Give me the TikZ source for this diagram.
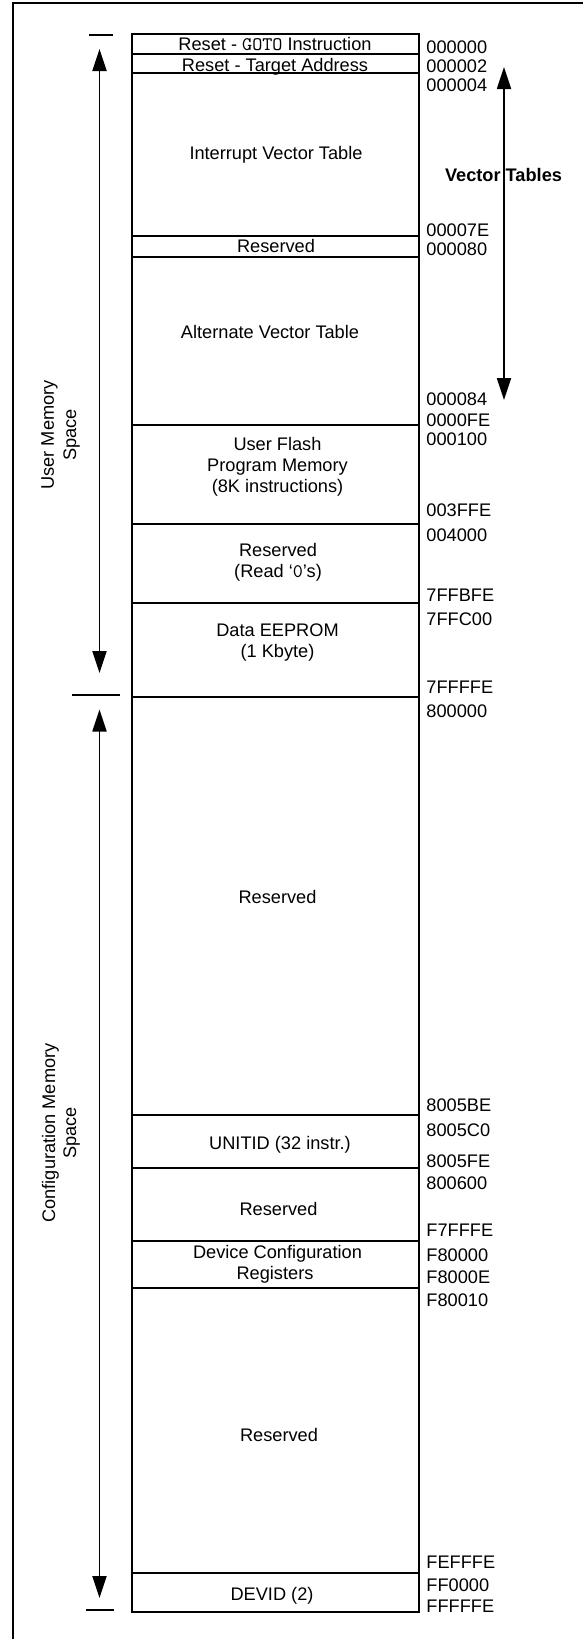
\documentclass[tikz,border=0pt]{standalone}
\usepackage{fontspec}
\setmainfont{Liberation Sans}
\usetikzlibrary{arrows.meta}
\tikzset{
  frameline/.style={line width=1pt},
  boxline/.style={line width=1.1pt},
  tickline/.style={line width=0.9pt},
  dblarrow/.style={line width=0.9pt,{Triangle[length=11pt,width=7pt]}-{Triangle[length=11pt,width=7pt]}},
  lbl/.style={anchor=base,inner sep=0pt,font=\fontsize{9.1pt}{10.5pt}\selectfont},
  addr/.style={anchor=base west,inner sep=0pt,font=\fontsize{9.1pt}{10.5pt}\selectfont},
  side/.style={anchor=base,rotate=90,inner sep=0pt,font=\fontsize{9.1pt}{10.5pt}\selectfont},
  boldlbl/.style={anchor=base,inner sep=0pt,font=\fontsize{9.1pt}{10.5pt}\selectfont\bfseries},
}
\begin{document}
\begin{tikzpicture}[x=0.5pt,y=-0.5pt]
\useasboundingbox (0,0) rectangle (583,1639);
% outer frame (only top and left visible)
\begin{scope}
\clip (0,0) rectangle (583,1639);
\coordinate (fbl) at (13,1660);
\coordinate (ftl) at (13,3);
\coordinate (ftr) at (600,3);
\draw[frameline] (fbl) -- (ftl) -- (ftr);
\end{scope}

% memory map column
\coordinate (boxtl) at (132,34);
\coordinate (boxbr) at (419,1612);
\draw[boxline] (boxtl) rectangle (boxbr);
\foreach \yy in {54,73,236,257,425,524,603,697,1115,1168,1241,1288,1573}
  \draw[boxline] (132,\yy) -- (419,\yy);

% region labels
\node[lbl] (goto)  at (275,50)    {Reset - {\ttfamily\fontsize{9.6pt}{10.5pt}\selectfont GOTO} Instruction};
\node[lbl] (tgt)   at (275,71)    {Reset - Target Address};
\node[lbl] (ivt)   at (276,159.3) {Interrupt Vector Table};
\node[lbl] (res1)  at (276,252.3) {Reserved};
\node[lbl] (avt)   at (270,338)   {Alternate Vector Table};
\node[lbl] (ufa)   at (277.5,450.7) {User Flash};
\node[lbl] (ufb)   at (277.5,471.7) {Program Memory};
\node[lbl] (ufc)   at (277.5,492.7) {(8K instructions)};
\node[lbl] (res2a) at (278,556.7) {Reserved};
\node[lbl] (res2b) at (278,577.7) {(Read ‘{\ttfamily\fontsize{9.6pt}{10.5pt}\selectfont 0}’s)};
\node[lbl] (eea)   at (277.5,636.7) {Data EEPROM};
\node[lbl] (eeb)   at (277.5,657.7) {(1 Kbyte)};
\node[lbl] (res3)  at (277.5,903.3) {Reserved};
\node[lbl] (uid)   at (280,1149)  {UNITID (32 instr.)};
\node[lbl] (res4)  at (278.5,1215) {Reserved};
\node[lbl] (dcra)  at (277.5,1258.3) {Device Configuration};
\node[lbl] (dcrb)  at (275,1279.3) {Registers};
\node[lbl] (res5)  at (279,1441.7) {Reserved};
\node[lbl] (devid) at (272,1600)  {DEVID (2)};

% addresses
\node[addr] (a01) at (426,53)    {000000};
\node[addr] (a02) at (426,72.7)  {000002};
\node[addr] (a03) at (426,91.7)  {000004};
\node[addr] (a04) at (426,236)   {00007E};
\node[addr] (a05) at (426,255)   {000080};
\node[addr] (a06) at (426,405.7) {000084};
\node[addr] (a07) at (426,426.7) {0000FE};
\node[addr] (a08) at (426,445.7) {000100};
\node[addr] (a09) at (426,516)   {003FFE};
\node[addr] (a10) at (426,541.7) {004000};
\node[addr] (a11) at (426,601)   {7FFBFE};
\node[addr] (a12) at (426,625.7) {7FFC00};
\node[addr] (a13) at (426,693.3) {7FFFFE};
\node[addr] (a14) at (426,717)   {800000};
\node[addr] (a15) at (426,1111.7) {8005BE};
\node[addr] (a16) at (426,1136.7) {8005C0};
\node[addr] (a17) at (426,1167.3) {8005FE};
\node[addr] (a18) at (426,1189.3) {800600};
\node[addr] (a19) at (426,1236)   {F7FFFE};
\node[addr] (a20) at (426,1261.7) {F80000};
\node[addr] (a21) at (426,1283.3) {F8000E};
\node[addr] (a22) at (426,1306)   {F80010};
\node[addr] (a23) at (426,1568.3) {FEFFFE};
\node[addr] (a24) at (426,1591.7) {FF0000};
\node[addr] (a25) at (426,1612)   {FFFFFE};

% vector tables arrow
\coordinate (vtTop) at (504,67);
\coordinate (vtBot) at (504,400);
\draw[dblarrow] (vtTop) -- (vtBot);
\node[boldlbl] (vt) at (503.5,181.7) {Vector Tables};

% user memory space
\coordinate (tk1a) at (89,34.7);
\coordinate (tk1b) at (113,34.7);
\draw[tickline] (tk1a) -- (tk1b);
\coordinate (uTop) at (99.5,49);
\coordinate (uBot) at (99.5,673);
\draw[dblarrow] (uTop) -- (uBot);
\node[side] (um1) at (54,435) {User Memory};
\node[side] (um2) at (76,435) {Space};

\coordinate (tk2a) at (72,695);
\coordinate (tk2b) at (120,695);
\draw[tickline] (tk2a) -- (tk2b);

% configuration memory space
\coordinate (cTop) at (99.5,709.5);
\coordinate (cBot) at (99.5,1598);
\draw[dblarrow] (cTop) -- (cBot);
\node[side] (cm1) at (55,1133) {Configuration Memory};
\node[side] (cm2) at (76,1133) {Space};

\coordinate (tk3a) at (86,1610);
\coordinate (tk3b) at (114,1610);
\draw[tickline] (tk3a) -- (tk3b);
\end{tikzpicture}
\end{document}
